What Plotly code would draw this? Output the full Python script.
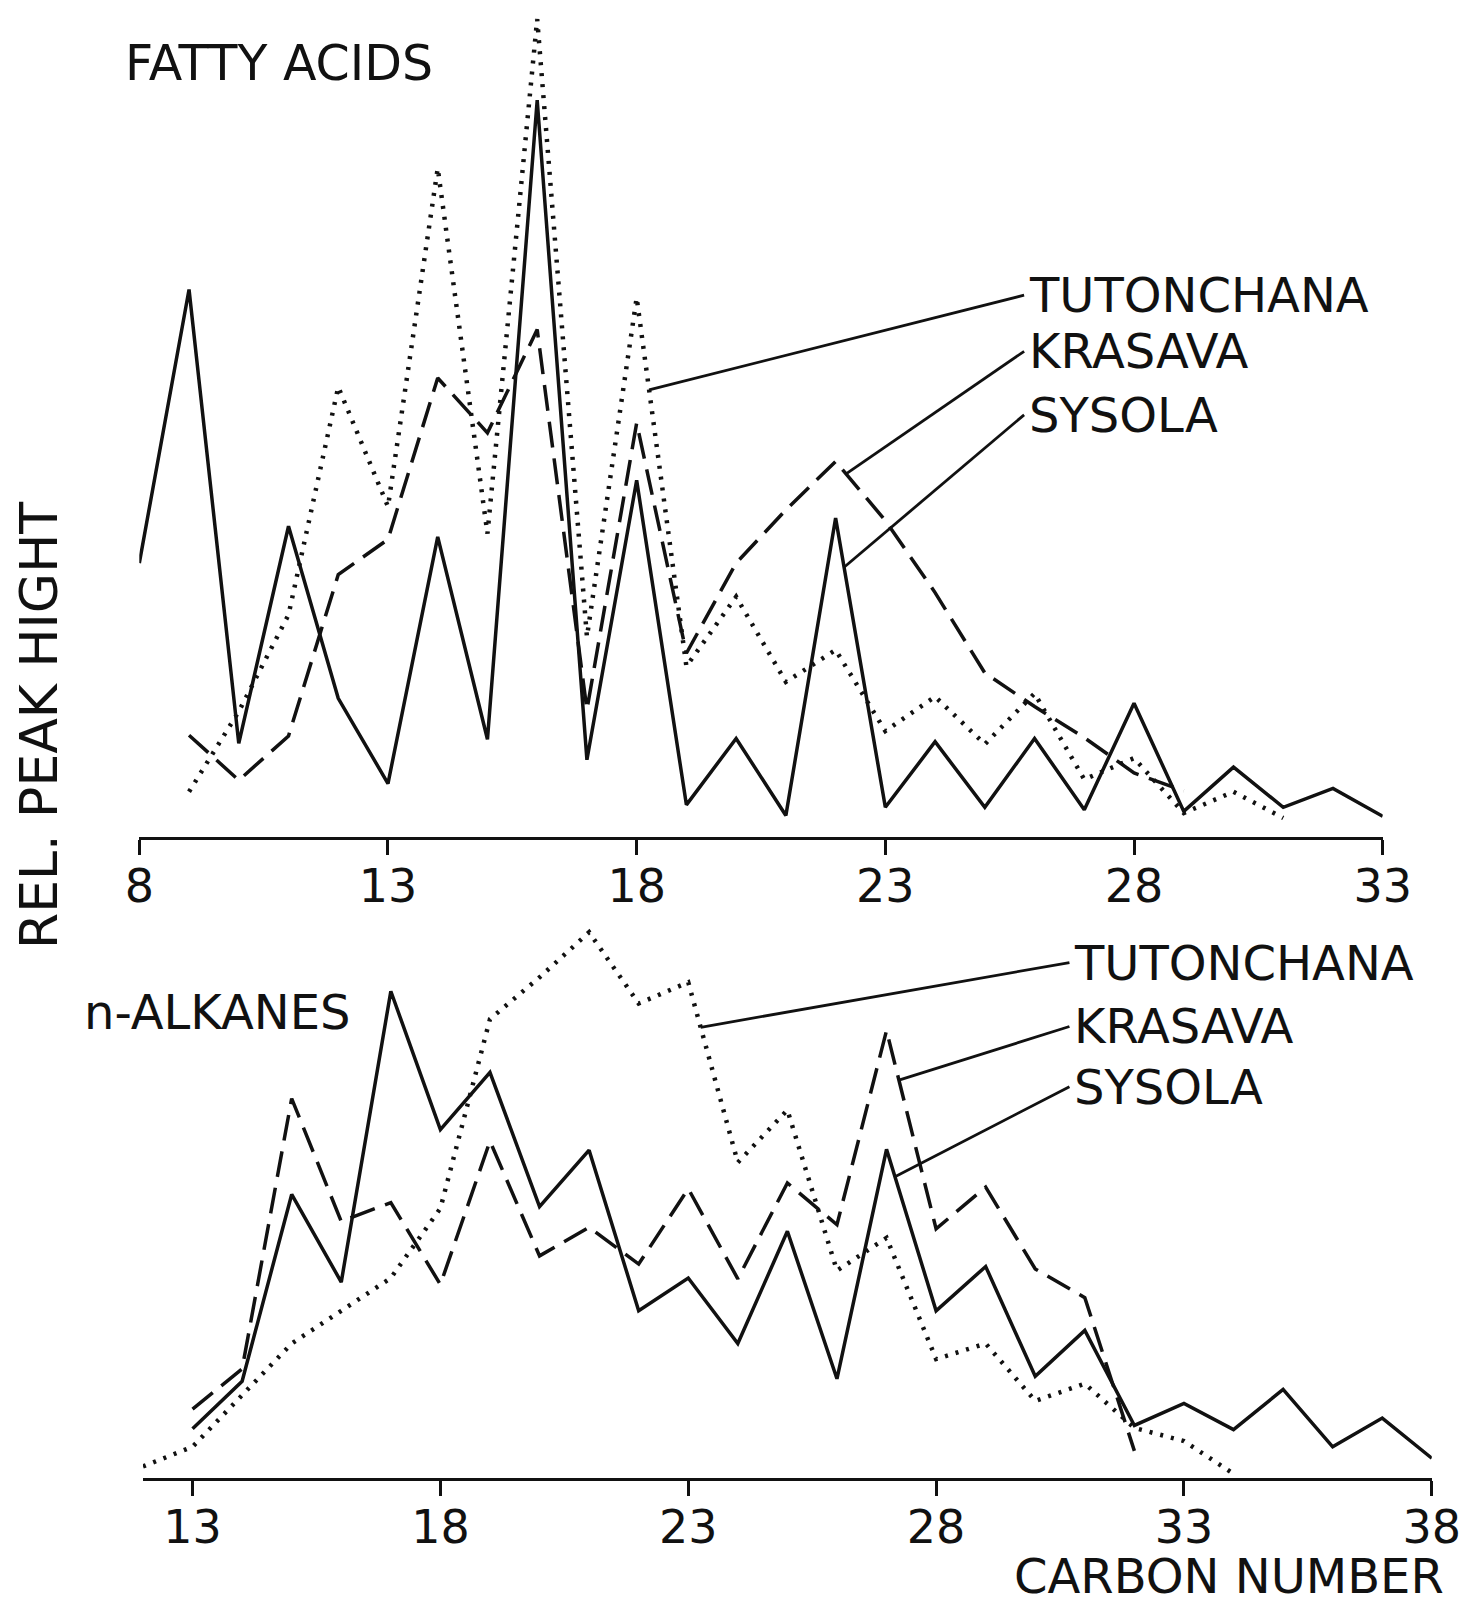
import numpy as np
import plotly.graph_objects as go

# ---------------- data (relative peak height, arbitrary units) ----------------
# FATTY ACIDS panel
fa_sys_c = list(range(8, 34))
fa_sys = [33.4, 66.8, 11.4, 37.9, 16.9, 6.5, 36.6, 11.9, 89.9, 9.4, 43.5, 3.9, 12.0,
          2.6, 38.9, 3.6, 11.6, 3.6, 12.0, 3.3, 16.3, 3.1, 8.5, 3.6, 5.9, 2.5]
fa_kra_c = list(range(9, 30))
fa_kra = [12.4, 6.9, 12.3, 32.0, 36.3, 56.0, 49.3, 61.9, 15.5, 50.5, 22.4, 33.4, 39.9,
          45.8, 38.6, 29.8, 20.0, 15.9, 12.1, 7.8, 5.6]
fa_tut_c = list(range(9, 32))
fa_tut = [5.5, 15.3, 27.1, 54.9, 40.3, 81.6, 37.0, 99.8, 24.4, 65.8, 20.8, 29.3, 18.9,
          22.8, 12.9, 17.1, 11.3, 17.5, 7.0, 9.6, 2.9, 5.5, 2.3]

# n-ALKANES panel
al_sys_c = list(range(13, 39))
al_sys = [6.0, 11.8, 34.6, 23.9, 59.4, 42.5, 49.5, 33.1, 40.0, 20.4, 24.4, 16.4, 30.1,
          12.1, 40.1, 20.4, 25.8, 12.4, 18.0, 6.4, 9.1, 5.9, 10.8, 3.8, 7.3, 2.4]
al_kra_c = list(range(13, 33))
al_kra = [8.4, 13.3, 46.3, 31.3, 33.6, 23.6, 41.1, 27.1, 30.6, 26.1, 35.3, 24.3, 36.0,
          30.9, 54.6, 30.4, 35.5, 25.5, 22.0, 3.3]
al_tut_c = list(range(12, 35))
al_tut = [1.4, 3.8, 10.1, 16.4, 20.4, 24.4, 32.9, 56.0, 61.1, 66.6, 57.9, 60.5, 38.5,
          44.9, 25.3, 29.3, 14.5, 16.4, 9.4, 11.5, 6.1, 4.5, 0.5]

fa_ticks = [8, 13, 18, 23, 28, 33]
al_ticks = [13, 18, 23, 28, 33, 38]
names = ["TUTONCHANA", "KRASAVA", "SYSOLA"]

FONT = "DejaVu Sans"
BLACK = "#111111"
DASH = "26px,11px"
DOT = "3px,8px"

fig = go.Figure()

def add(c, v, dash, width, xa, ya):
    fig.add_trace(go.Scatter(x=c, y=v, mode="lines",
                             line=dict(color=BLACK, width=width, dash=dash),
                             xaxis=xa, yaxis=ya, hoverinfo="skip", showlegend=False))

add(fa_tut_c, fa_tut, DOT, 4.5, "x", "y")
add(fa_kra_c, fa_kra, DASH, 3.5, "x", "y")
add(fa_sys_c, fa_sys, "solid", 3.5, "x", "y")
add(al_tut_c, al_tut, DOT, 4.5, "x2", "y2")
add(al_kra_c, al_kra, DASH, 3.5, "x2", "y2")
add(al_sys_c, al_sys, "solid", 3.5, "x2", "y2")

axis_common = dict(showline=True, linecolor=BLACK, linewidth=3, ticks="outside",
                   ticklen=15, tickwidth=3, tickcolor=BLACK, showgrid=False,
                   zeroline=False, automargin=False, ticklabelstandoff=-8,
                   tickfont=dict(family=FONT, size=46, color=BLACK))

fig.update_layout(
    width=1481, height=1606, autosize=False,
    margin=dict(l=0, r=0, t=0, b=0, autoexpand=False),
    paper_bgcolor="white", plot_bgcolor="white",
    xaxis=dict(domain=[0.08866, 0.92823], range=[8, 33], anchor="y",
               tickvals=fa_ticks, **axis_common),
    yaxis=dict(domain=[0.48394, 1.0], range=[0, 101.15], visible=False, automargin=False),
    xaxis2=dict(domain=[0.09114, 0.96138], range=[12, 38], anchor="y2",
                tickvals=al_ticks, **axis_common),
    yaxis2=dict(domain=[0.08474, 0.43101], range=[0, 67.875], visible=False,
                automargin=False),
)

# --------------- labels with leader lines ---------------
def labels(xr, yr, lx, ly, series, targets):
    for name, yy, (c, v), tx in zip(names, ly, series, targets):
        ty = float(np.interp(tx, c, v))
        fig.add_shape(type="line", xref=xr, yref=yr, x0=lx - 0.06, y0=yy,
                      x1=tx, y1=ty, line=dict(color=BLACK, width=2.8))
        fig.add_annotation(xref=xr, yref=yr, x=lx, y=yy, text=name, showarrow=False,
                           xanchor="left", yanchor="middle",
                           font=dict(family=FONT, size=48, color=BLACK))

labels("x", "y", 25.85, [66.1, 59.25, 51.5],
       [(fa_tut_c, fa_tut), (fa_kra_c, fa_kra), (fa_sys_c, fa_sys)],
       [18.25, 22.21, 22.17])
labels("x2", "y2", 30.75, [62.9, 55.1, 47.75],
       [(al_tut_c, al_tut), (al_kra_c, al_kra), (al_sys_c, al_sys)],
       [23.25, 27.25, 27.17])

def ptext(text, x, y, xanchor="left", angle=0, size=48):
    fig.add_annotation(xref="paper", yref="paper", x=x, y=y, text=text,
                       showarrow=False, xanchor=xanchor, yanchor="middle",
                       textangle=angle, font=dict(family=FONT, size=size, color=BLACK))

ptext("FATTY ACIDS", 0.0777, 0.96544, size=49)
ptext("n-ALKANES", 0.04997, 0.37484)
ptext("REL. PEAK HIGHT", 0.02093, 0.55355, xanchor="center", angle=-90, size=52)
ptext("CARBON NUMBER", 0.6779, 0.0235, size=48)

fig.write_html("out.html")
